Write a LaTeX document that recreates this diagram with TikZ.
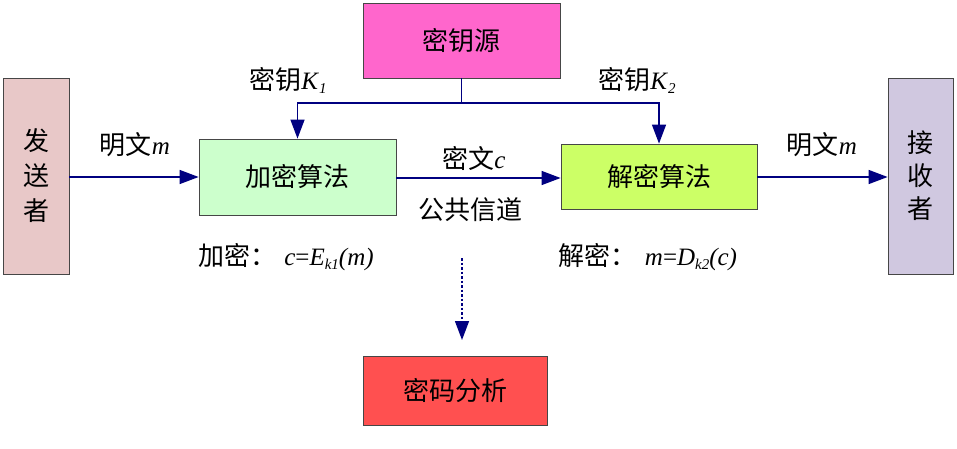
\documentclass[tikz,border=0pt]{standalone}
\usepackage{fontspec}
\setmainfont{Liberation Serif}
\newfontfamily\cjk{Noto Sans CJK SC}
\usetikzlibrary{arrows.meta,calc}
\definecolor{navyc}{RGB}{0,0,128}
\definecolor{sendc}{RGB}{232,200,200}
\definecolor{encc}{RGB}{204,255,204}
\definecolor{keyc}{RGB}{255,102,204}
\definecolor{decc}{RGB}{204,255,102}
\definecolor{recvc}{RGB}{208,200,224}
\definecolor{anac}{RGB}{255,80,80}
\definecolor{edgec}{RGB}{70,70,70}
\newcommand{\subi}[1]{\raisebox{-0.35ex}{\fontsize{15}{15}\selectfont\textit{#1}}}
\newcommand{\zh}[1]{{\fontsize{26}{30}\selectfont\cjk #1}}
\tikzset{
  box/.style={draw=edgec, line width=0.8pt, rectangle, inner sep=0pt,
    font=\fontsize{26}{30}\selectfont\cjk},
  lbl/.style={inner sep=0pt, font=\fontsize{25}{30}\selectfont},
  tip/.style={-{Triangle[length=19pt,width=14pt]}},
  arr/.style={draw=navyc, line width=1.4pt, tip},
  ln/.style={draw=navyc, line width=1.4pt},
}
\begin{document}
\begin{tikzpicture}[x=1pt,y=-1pt]
\useasboundingbox (0,0) rectangle (957,449);
\node[box, fill=sendc, minimum width=66pt, minimum height=196pt, align=center, font=\fontsize{26}{35}\selectfont\cjk] (send) at (36,176) {发\\送\\者};
\node[box, fill=encc, minimum width=197pt, minimum height=76pt] (enc) at (297.5,177) {加密算法};
\node[box, fill=keyc, minimum width=197pt, minimum height=75pt] (key) at (461.5,40.5) {密钥源};
\node[box, fill=decc, minimum width=196pt, minimum height=65pt] (dec) at (659,176.5) {解密算法};
\node[box, fill=recvc, minimum width=65pt, minimum height=196pt, align=center, font=\fontsize{26}{33}\selectfont\cjk] (recv) at (920.5,176) {接\\收\\者};
\node[box, fill=anac, minimum width=184pt, minimum height=69pt] (ana) at (455,390.5) {密码分析};

\coordinate (kj) at (461.5,103);
\coordinate (dtop) at (462,258);
\coordinate (dbot) at (462,340);

\draw[arr] (send.east |- 0,177) -- (enc.west |- 0,177);
\draw[ln] (key.south) -- (kj);
\draw[arr] (kj) -| (enc.north);
\draw[arr] (kj) -| (dec.north);
\draw[arr] (enc.east |- 0,178) -- (dec.west |- 0,178);
\draw[arr] (dec.east |- 0,177) -- (recv.west |- 0,177);
\draw[navyc, line width=1.4pt, dash pattern=on 2.5pt off 2pt, tip] (dtop) -- (dbot);

\node[lbl] (l1) at (135,145) {\zh{明文}\textit{m}};
\node[lbl] (l2) at (288,80) {\zh{密钥}\textit{K}\subi{1}};
\node[lbl] (l3) at (637,80) {\zh{密钥}\textit{K}\subi{2}};
\node[lbl] (l4) at (474,158) {\zh{密文}\textit{c}};
\node[lbl] (l5) at (470,210) {\zh{公共信道}};
\node[lbl] (l6) at (822,145) {\zh{明文}\textit{m}};
\node[lbl] (l7) at (286,257) {\zh{加密：}\hspace{8pt}\textit{c}=\textit{E}\subi{k1}\textit{(m)}};
\node[lbl] (l8) at (648,257) {\zh{解密：}\hspace{8pt}\textit{m}=\textit{D}\subi{k2}\textit{(c)}};
\end{tikzpicture}
\end{document}
